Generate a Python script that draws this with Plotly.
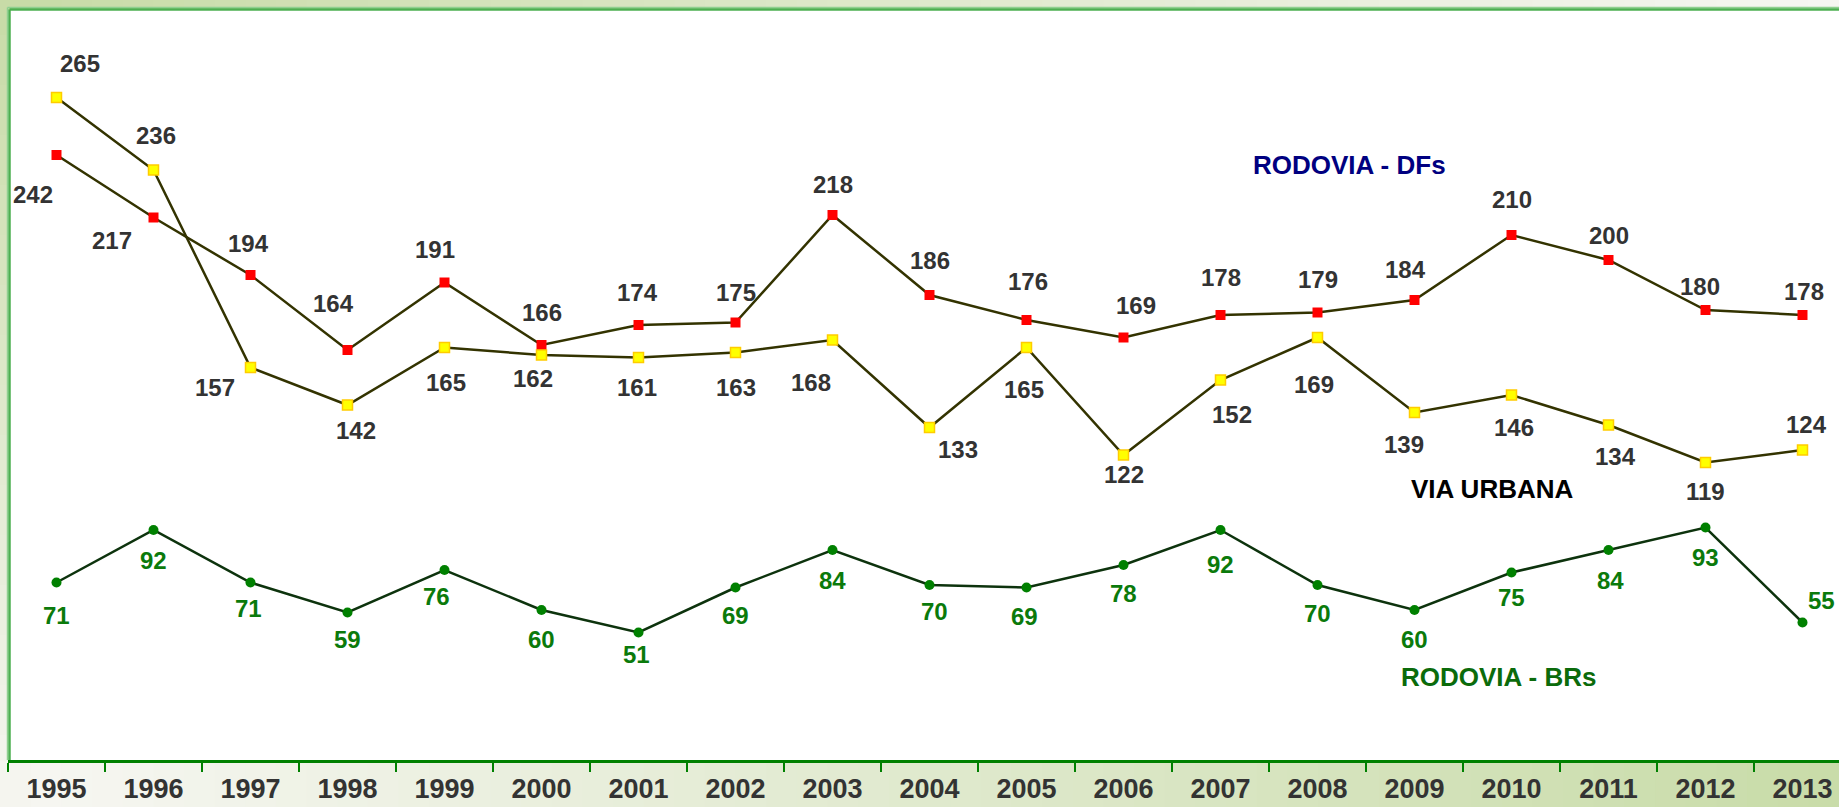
import plotly.graph_objects as go

years = [str(y) for y in range(1995, 2014)]
rodovia_dfs = [242, 217, 194, 164, 191, 166, 174, 175, 218, 186, 176, 169, 178, 179, 184, 210, 200, 180, 178]
via_urbana = [265, 236, 157, 142, 165, 162, 161, 163, 168, 133, 165, 122, 152, 169, 139, 146, 134, 119, 124]
rodovia_brs = [71, 92, 71, 59, 76, 60, 51, 69, 84, 70, 69, 78, 92, 70, 60, 75, 84, 93, 55]

# label offsets (pixels, measured on reference; dx right, dy down)
dfs_off = [(-20, 34), (-35, 20), (-2, -27), (-12, -40), (-8, -28), (0, -28), (-1, -28), (0, -26), (0, -26),
           (0, -29), (1, -33), (11, -27), (0, -32), (0, -28), (-8, -26), (0, -30), (0, -21), (-5, -20), (1, -20)]
urb_off = [(20, -29), (2, -29), (-30, 17), (7, 22), (1, 30), (-7, 20), (-1, 26), (0, 30), (-18, 36),
           (24, 19), (-2, 36), (0, 17), (10, 29), (-3, 40), (-9, 27), (2, 28), (6, 27), (0, 25), (3, -22)]
brs_off = [(0, 28), (0, 26), (-2, 22), (0, 23), (-7, 23), (0, 25), (-2, 19), (0, 24), (0, 26),
           (4, 23), (-2, 25), (0, 24), (0, 29), (0, 24), (0, 25), (0, 21), (2, 26), (0, 26), (16, -19)]
SC = 1.173

W, H = 1839, 807
ML, MR, MT, MB = 8, 0, 10, 47
PW, PH = W - ML - MR, H - MT - MB

fig = go.Figure()
fig.add_trace(go.Scatter(x=years, y=rodovia_dfs, mode="lines+markers", name="RODOVIA - DFs",
                         line=dict(color="#333300", width=2.5),
                         marker=dict(symbol="square", size=10, color="#ff0000")))
fig.add_trace(go.Scatter(x=years, y=via_urbana, mode="lines+markers", name="VIA URBANA",
                         line=dict(color="#333300", width=2.5),
                         marker=dict(symbol="square", size=10, color="#ffff00",
                                     line=dict(color="#ffcc00", width=1.5))))
fig.add_trace(go.Scatter(x=years, y=rodovia_brs, mode="lines+markers", name="RODOVIA - BRs",
                         line=dict(color="#0d330d", width=2.5),
                         marker=dict(symbol="circle", size=10, color="#008000")))

ann = []
def add_labels(vals, offs, color):
    for i, (v, (dx, dy)) in enumerate(zip(vals, offs)):
        ann.append(dict(x=i, y=v, xref="x", yref="y", text=str(v), showarrow=False,
                        xanchor="center", yanchor="middle",
                        xshift=dx * SC, yshift=-dy * SC,
                        font=dict(family="Liberation Sans, Arial", size=24, color=color, weight="bold")))

add_labels(rodovia_dfs, dfs_off, "#333333")
add_labels(via_urbana, urb_off, "#333333")
add_labels(rodovia_brs, brs_off, "#0b7a0b")

def px2paper(px, py):
    return (px - ML) / PW, (H - MB - py) / PH

names = [("RODOVIA - DFs", 1349, 165, "#000080"),
         ("VIA URBANA", 1492, 489, "#000000"),
         ("RODOVIA - BRs", 1499, 677, "#0b6b0b")]
for txt, px, py, col in names:
    xp, yp = px2paper(px, py)
    ann.append(dict(x=xp, y=yp, xref="paper", yref="paper", text=txt, showarrow=False,
                    xanchor="center", yanchor="middle",
                    font=dict(family="Liberation Sans, Arial", size=26, color=col, weight="bold")))

# background gradient (diagonal green -> white -> green)
G = (199, 219, 166)
Wt = (246, 246, 241)
def grad(px, py):
    t = (px / W + py / H) / 2
    f = 1 - abs(2 * t - 1)
    c = [round(G[k] + (Wt[k] - G[k]) * f) for k in range(3)]
    return "rgb(%d,%d,%d)" % tuple(c)

shapes = []
N = 60
for i in range(N):
    x0, x1 = W * i / N, W * (i + 1) / N
    for (y0, y1) in [(0, MT), (H - MB, H)]:
        a0, b0 = px2paper(x0, y1)
        a1, b1 = px2paper(x1 + 1, y0)
        shapes.append(dict(type="rect", xref="paper", yref="paper", x0=a0, x1=a1, y0=b0, y1=b1,
                           fillcolor=grad((x0 + x1) / 2, (y0 + y1) / 2), line=dict(width=0), layer="below"))
M = 30
for j in range(M):
    y0, y1 = MT + PH * j / M, MT + PH * (j + 1) / M
    a0, b0 = px2paper(0, y1 + 1)
    a1, b1 = px2paper(ML, y0)
    shapes.append(dict(type="rect", xref="paper", yref="paper", x0=a0, x1=a1, y0=b0, y1=b1,
                       fillcolor=grad(ML / 2, (y0 + y1) / 2), line=dict(width=0), layer="below"))
# plot frame (left and top)
for (xa, ya, xb, yb, col, wd) in [(7.5, 7.5, W, 7.5, "#8fd08f", 1.5), (9.5, 9.5, W, 9.5, "#4caf50", 2.5),
                                  (7.5, 7.5, 7.5, H - MB, "#8fd08f", 1.5), (9.5, 9.5, 9.5, H - MB, "#4caf50", 2.5)]:
    a0, b0 = px2paper(xa, ya)
    a1, b1 = px2paper(xb, yb)
    shapes.append(dict(type="line", xref="paper", yref="paper", x0=a0, y0=b0, x1=a1, y1=b1,
                       line=dict(color=col, width=wd), layer="above"))

fig.update_layout(
    width=W, height=H,
    margin=dict(l=ML, r=MR, t=MT, b=MB, pad=0),
    paper_bgcolor="#f4f5ee", plot_bgcolor="#ffffff",
    showlegend=False,
    annotations=ann,
    shapes=shapes,
    xaxis=dict(type="category", range=[-0.5, -0.5 + PW / 97.0], tickson="boundaries",
               ticks="outside", ticklen=9, tickwidth=2, tickcolor="#008000",
               showline=True, linecolor="#008000", linewidth=3, showgrid=False, zeroline=False,
               tickfont=dict(family="Liberation Sans, Arial", size=27,
                             color="#333333", weight="bold"),
               ticklabelstandoff=3),
    yaxis=dict(range=[0, 300], showticklabels=False, ticks="", showline=False,
               showgrid=False, zeroline=False),
)

fig.write_html("out.html", config={"displayModeBar": False},
               post_script="document.body.style.margin='0';document.body.style.overflow='hidden';")
